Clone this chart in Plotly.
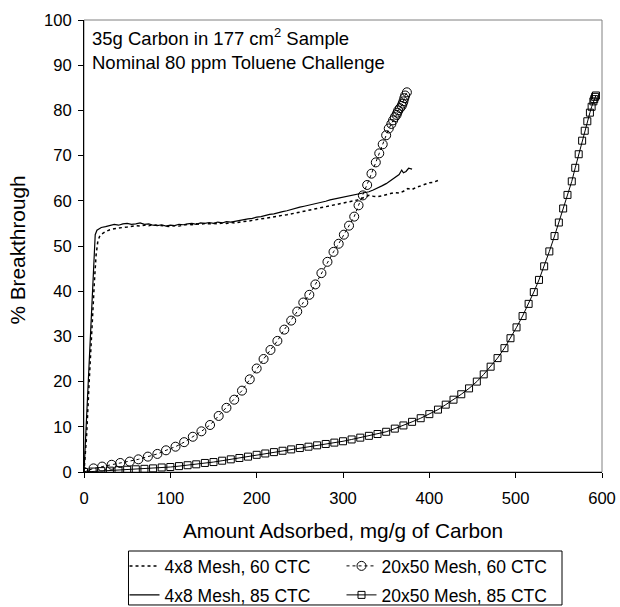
import plotly.graph_objects as go

# 4x8 Mesh, 60 CTC (dotted line)
x_4x8_60 = [0, 3, 6, 9, 12, 14, 16, 18, 20, 25, 30, 35, 40, 45, 50, 55, 60, 65, 70, 75, 80, 85, 90, 95,
            100, 105, 110, 115, 120, 125, 130, 135, 140, 145, 150, 155, 160, 165, 170, 175, 180, 185, 190,
            195, 200, 205, 210, 215, 220, 225, 230, 235, 240, 245, 250, 255, 260, 265, 270, 275, 280, 285,
            290, 295, 300, 305, 310, 315, 320, 325, 330, 335, 340, 345, 350, 355, 360, 365, 370, 375, 380,
            385, 390, 395, 400, 405, 410]
y_4x8_60 = [0, 8, 20, 32, 42, 48, 51, 52.1, 52.6, 53.2, 53.6, 53.8, 54.0, 54.1, 54.2, 54.4, 54.5, 54.4, 54.6,
            54.5, 54.7, 54.6, 54.5, 54.4, 54.3, 54.5, 54.4, 54.6, 54.8, 54.7, 54.9, 54.8, 55.0, 54.9, 55.0,
            54.9, 55.1, 55.0, 55.2, 55.1, 55.3, 55.4, 55.5, 55.7, 55.8, 56.0, 56.1, 56.3, 56.4, 56.6, 56.8,
            56.9, 57.1, 57.3, 57.4, 57.6, 57.8, 58.0, 58.2, 58.4, 58.6, 58.8, 59.0, 59.2, 59.4, 59.6, 59.8,
            60.1, 60.4, 60.8, 61.2, 61.0, 60.9, 61.1, 61.4, 61.6, 61.8, 61.7, 62.1, 62.7, 62.5, 63.0, 63.3,
            63.6, 64.0, 64.1, 64.5]

# 4x8 Mesh, 85 CTC (solid line)
x_4x8_85 = [0, 3, 6, 9, 11, 13, 15, 18, 20, 25, 30, 35, 40, 45, 50, 55, 60, 65, 70, 75, 80, 85, 90, 95,
            100, 105, 110, 115, 120, 125, 130, 135, 140, 145, 150, 155, 160, 165, 170, 175, 180, 185, 190,
            195, 200, 205, 210, 215, 220, 225, 230, 235, 240, 245, 250, 255, 260, 265, 270, 275, 280, 285,
            290, 295, 300, 305, 310, 315, 320, 325, 330, 335, 340, 345, 350, 355, 360, 365, 368, 370, 373,
            376, 380]
y_4x8_85 = [0, 12, 24, 36, 44, 52.5, 53.5, 53.9, 54.1, 54.3, 54.5, 54.8, 54.6, 54.9, 55.0, 54.8, 54.9, 55.1,
            54.8, 54.9, 54.6, 54.5, 54.7, 54.4, 54.6, 54.5, 54.8, 54.7, 54.9, 55.0, 54.8, 55.1, 55.0, 55.2,
            55.0, 55.3, 55.1, 55.4, 55.3, 55.5, 55.6, 55.8, 56.0, 56.1, 56.4, 56.5, 56.8, 57.0, 57.1, 57.4,
            57.6, 57.8, 58.1, 58.3, 58.6, 58.8, 59.0, 59.3, 59.4, 59.7, 59.9, 60.2, 60.4, 60.5, 60.8, 61.0,
            61.1, 61.3, 61.5, 61.7, 62.0, 62.4, 62.8, 63.3, 63.8, 64.5, 65.2, 65.8, 66.8, 66.2, 66.5, 67.2, 67.0]

# 20x50 Mesh, 60 CTC (circles, dotted line)
x_20x50_60 = [0, 11, 21, 32, 42, 53, 63, 74, 85, 95, 106, 116, 126, 136, 146, 156, 165, 174, 183, 192, 200,
              208, 216, 224, 232, 240, 247, 254, 261, 268, 275, 282, 289, 295, 301, 307, 313, 318, 323, 328,
              333, 338, 342, 346, 350, 353, 356, 358, 360, 362, 363, 364, 366, 368, 369, 370, 371, 372, 374]
y_20x50_60 = [0, 0.8, 1.2, 1.6, 2.0, 2.3, 2.8, 3.4, 4.0, 4.8, 5.6, 6.6, 7.8, 9.0, 10.4, 12.4, 14.2, 16.0,
              18.0, 20.5, 22.9, 25.0, 27.0, 29.0, 31.5, 33.5, 35.5, 37.5, 39.2, 41.5, 44.0, 46.5, 48.7, 50.5,
              52.5, 54.5, 56.5, 59.0, 61.2, 63.5, 66.0, 68.5, 70.5, 72.5, 74.5, 76.0, 77.0, 77.8, 78.5, 79.0,
              79.5, 80.0, 80.5, 81.0, 81.5, 82.0, 82.7, 83.3, 84.0]

# 20x50 Mesh, 85 CTC (squares, solid line)
x_20x50_85 = [0, 10, 20, 30, 40, 50, 60, 70, 80, 90, 100, 110, 120, 130, 140, 150, 160, 170, 180, 190, 200,
              210, 220, 230, 240, 250, 260, 270, 280, 290, 300, 310, 320, 330, 340, 350, 360, 370, 380, 390,
              400, 410, 419, 428, 437, 446, 455, 463, 471, 479, 487, 494, 501, 508, 515, 521, 527, 533, 539,
              545, 550, 555, 560, 565, 569, 573, 577, 580, 583, 586, 588, 590, 591, 592, 593]
y_20x50_85 = [0, 0.1, 0.2, 0.3, 0.4, 0.5, 0.6, 0.7, 0.8, 1.0, 1.1, 1.3, 1.5, 1.7, 2.0, 2.2, 2.5, 2.8, 3.1,
              3.4, 3.8, 4.1, 4.4, 4.7, 5.0, 5.3, 5.6, 5.9, 6.2, 6.5, 6.8, 7.2, 7.6, 8.0, 8.4, 8.9, 9.6, 10.3,
              11.1, 11.9, 12.8, 13.8, 14.9, 16.0, 17.2, 18.5, 20.0, 21.6, 23.3, 25.2, 27.4, 29.6, 32.0, 34.5,
              37.2, 39.8, 42.5, 45.5, 48.8, 52.2, 55.2, 58.3, 61.3, 64.3, 67.3, 70.3, 73.3, 75.5, 77.6, 79.5,
              80.8, 82.0, 82.5, 83.0, 83.3]

x_ticks = [0, 100, 200, 300, 400, 500, 600]
y_ticks = [0, 10, 20, 30, 40, 50, 60, 70, 80, 90, 100]

FONT = "Liberation Sans, Arial, sans-serif"

fig = go.Figure()
fig.add_trace(go.Scatter(x=x_4x8_60, y=y_4x8_60, mode="lines", name="4x8 Mesh, 60 CTC",
                         legend="legend",
                         line=dict(color="black", width=1.5, dash="dot")))
fig.add_trace(go.Scatter(x=x_20x50_60, y=y_20x50_60, mode="lines+markers", name="20x50 Mesh, 60 CTC",
                         legend="legend",
                         line=dict(color="black", width=1, dash="dot"),
                         marker=dict(symbol="circle-open", size=9, color="black", line=dict(width=1))))
fig.add_trace(go.Scatter(x=x_4x8_85, y=y_4x8_85, mode="lines", name="4x8 Mesh, 85 CTC",
                         legend="legend2",
                         line=dict(color="black", width=1.2)))
fig.add_trace(go.Scatter(x=x_20x50_85, y=y_20x50_85, mode="lines+markers", name="20x50 Mesh, 85 CTC",
                         legend="legend2",
                         line=dict(color="black", width=1),
                         marker=dict(symbol="square-open", size=7, color="black", line=dict(width=1))))

# plot-area frame (grey top/right like the original)
fig.add_shape(type="rect", xref="paper", yref="paper", x0=0, y0=0, x1=1, y1=1,
              line=dict(color="#808080", width=1), layer="below")
# legend frame
fig.add_shape(type="rect", xref="paper", yref="paper", x0=0.0859, x1=0.9228, y0=-0.2942, y1=-0.1748,
              line=dict(color="black", width=1), layer="above")

fig.add_annotation(xref="paper", yref="paper", x=0.012, y=0.993, xanchor="left", yanchor="top",
                   align="left", showarrow=False,
                   text="35g Carbon in 177 cm<sup>2</sup> Sample<br>Nominal 80 ppm Toluene Challenge",
                   font=dict(family=FONT, size=18.5, color="black"))

# y-axis title placed as rotated text to match the original position
fig.add_annotation(xref="paper", yref="paper", x=-0.1274, y=0.49, xanchor="center", yanchor="middle",
                   textangle=-90, showarrow=False, text="% Breakthrough",
                   font=dict(family=FONT, size=20.8, color="black"))

legend_common = dict(orientation="h", xref="paper", yref="container", xanchor="left", yanchor="middle",
                     borderwidth=0, bgcolor="rgba(0,0,0,0)",
                     font=dict(family=FONT, size=17.5, color="black"),
                     entrywidth=172, itemwidth=30)

fig.update_layout(
    width=620, height=607,
    margin=dict(l=84, r=18, t=20, b=135, autoexpand=False),
    paper_bgcolor="white", plot_bgcolor="white",
    font=dict(family=FONT, color="black"),
    showlegend=True,
    legend=dict(legend_common, x=0.0782, y=1 - 566 / 607),
    legend2=dict(legend_common, x=0.0782, y=1 - 595 / 607),
    xaxis=dict(range=[0, 600], tickvals=x_ticks, showgrid=False, zeroline=False,
               showline=True, linecolor="black", linewidth=1, ticks="outside", ticklen=5,
               tickcolor="black", tickfont=dict(family=FONT, size=16.6), ticklabelstandoff=6,
               title=dict(text="Amount Adsorbed, mg/g of Carbon", font=dict(family=FONT, size=20.8),
                          standoff=16)),
    yaxis=dict(range=[0, 100], tickvals=y_ticks, showgrid=False, zeroline=False,
               showline=True, linecolor="black", linewidth=1, ticks="outside", ticklen=5,
               tickcolor="black", tickfont=dict(family=FONT, size=16.6), ticklabelstandoff=3),
)

fig.write_html("out.html", config={"displayModeBar": False},
               post_script="document.body.style.margin='0';")
